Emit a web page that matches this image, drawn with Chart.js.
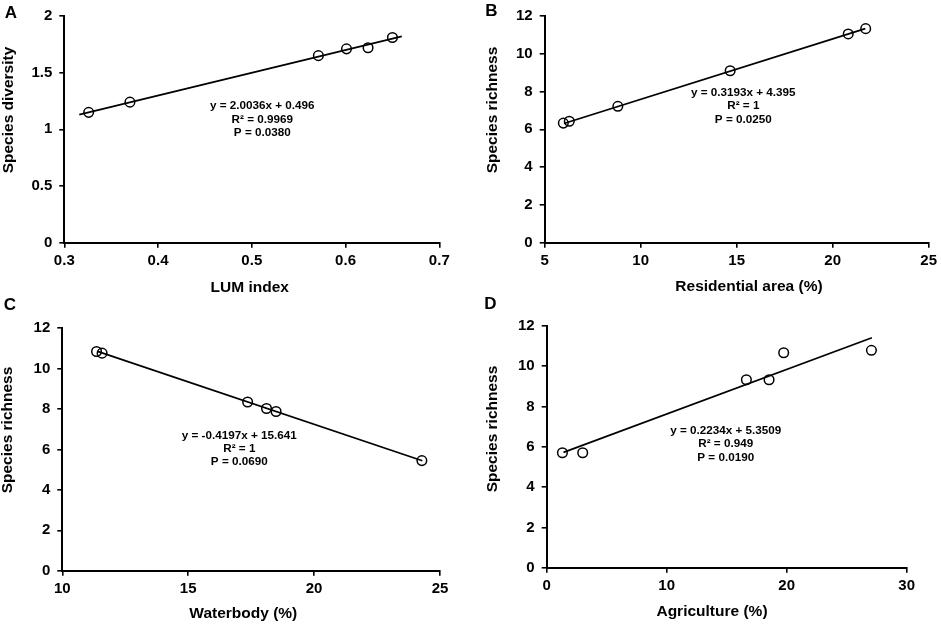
<!DOCTYPE html>
<html>
<head>
<meta charset="utf-8">
<script src="https://cdn.jsdelivr.net/npm/chart.js@4.4.1/dist/chart.umd.min.js"></script>
<style>
    body { margin: 0; background: #ffffff; }
    #wrap { position: relative; width: 941px; height: 624px; }
    canvas { position: absolute; }
</style>
</head>
<body>
<div id="wrap">
    <canvas id="panel-a" width="470" height="300" style="left:0;top:0"></canvas>
    <canvas id="panel-b" width="471" height="300" style="left:470px;top:0"></canvas>
    <canvas id="panel-c" width="470" height="328" style="left:0;top:296px"></canvas>
    <canvas id="panel-d" width="471" height="328" style="left:470px;top:296px"></canvas>
</div>
<script>
// A - LUM index vs species diversity
const lumIndex = [0.326, 0.370, 0.571, 0.601, 0.624, 0.650];
const diversity = [1.15, 1.24, 1.65, 1.71, 1.72, 1.81];
const lumTrendX = [0.316, 0.660];
const lumTrendY = [1.13, 1.82];
const lumTicks = [0.3, 0.4, 0.5, 0.6, 0.7];
const diversityTicks = [0, 0.5, 1, 1.5, 2];

// B - residential area vs species richness
const residential = [5.97, 6.28, 8.81, 14.66, 20.81, 21.72];
const richnessB = [6.33, 6.43, 7.22, 9.10, 11.05, 11.33];
const residentialTrendX = [6.0, 21.7];
const residentialTrendY = [6.31, 11.33];
const residentialTicks = [5, 10, 15, 20, 25];

// C - waterbody vs species richness
const waterbody = [11.36, 11.58, 17.36, 18.11, 18.49, 24.28];
const richnessC = [10.85, 10.77, 8.35, 8.03, 7.88, 5.45];
const waterTrendX = [11.4, 24.3];
const waterTrendY = [10.86, 5.44];
const waterTicks = [10, 15, 20, 25];

// D - agriculture vs species richness
const agriculture = [1.31, 3.0, 16.64, 18.53, 19.75, 27.06];
const richnessD = [5.70, 5.70, 9.32, 9.32, 10.66, 10.78];
const agriTrendX = [1.4, 27.1];
const agriTrendY = [5.72, 11.40];
const agriTicks = [0, 10, 20, 30];

const richnessTicks = [0, 2, 4, 6, 8, 10, 12];

const FONT = 'Liberation Sans, Arial, sans-serif';

// panel letter, axis titles (Excel puts them a little off centre) and regression text
const panelText = {
    id: 'panelText',
    afterDatasetsDraw(chart, args, opts) {
        const ctx = chart.ctx;
        ctx.save();
        ctx.fillStyle = '#000000';
        ctx.textAlign = 'center';
        ctx.textBaseline = 'middle';
        ctx.font = 'bold 17px ' + FONT;
        ctx.fillText(opts.letter, opts.letterX, opts.letterY);

        ctx.font = 'bold 15.5px ' + FONT;
        ctx.fillText(opts.xTitle, opts.xTitleX, opts.xTitleY);
        ctx.save();
        ctx.translate(opts.yTitleX, opts.yTitleY);
        ctx.rotate(-Math.PI / 2);
        ctx.fillText(opts.yTitle, 0, 0);
        ctx.restore();

        ctx.font = 'bold 11.7px ' + FONT;
        opts.notes.forEach((line, i) => {
            ctx.fillText(line, opts.noteX, opts.noteY + i * 13.3);
        });
        ctx.restore();
    }
};

function toPoints(xs, ys) {
    return xs.map((x, i) => ({x: x, y: ys[i]}));
}

function fixedTicks(values) {
    return function (scale) {
        scale.ticks = values.map(v => ({value: v}));
    };
}

function addPanel(canvasId, p, g) {
    const axisFont = {size: 15, weight: 'bold', family: FONT};
    const tickMarks = {
        display: true,
        drawOnChartArea: false,
        drawTicks: true,
        tickLength: 5,
        color: '#000000',
        lineWidth: 1.6
    };

    new Chart(canvasId, {
        type: 'scatter',
        data: {
            datasets: [{
                data: toPoints(p.xs, p.ys),
                showLine: false,
                pointStyle: 'circle',
                pointRadius: 4.8,
                pointBorderWidth: 1.5,
                pointBorderColor: '#000000',
                pointBackgroundColor: 'rgba(0,0,0,0)'
            }, {
                data: toPoints(p.trendX, p.trendY),
                showLine: true,
                borderColor: '#000000',
                borderWidth: 1.7,
                pointRadius: 0
            }]
        },
        options: {
            responsive: false,
            animation: false,
            events: [],
            layout: {
                padding: {top: g.top, right: g.right, left: 0, bottom: 0}
            },
            scales: {
                x: {
                    type: 'linear',
                    min: p.xTicks[0],
                    max: p.xTicks[p.xTicks.length - 1],
                    afterBuildTicks: fixedTicks(p.xTicks),
                    afterFit(scale) { scale.height = g.xHeight; },
                    ticks: {
                        font: axisFont,
                        color: '#000000',
                        padding: 4,
                        maxRotation: 0,
                        callback: v => String(v)
                    },
                    grid: tickMarks,
                    border: {display: true, color: '#000000', width: 2},
                    title: {display: false}
                },
                y: {
                    type: 'linear',
                    min: p.yTicks[0],
                    max: p.yTicks[p.yTicks.length - 1],
                    afterBuildTicks: fixedTicks(p.yTicks),
                    afterFit(scale) { scale.width = g.yWidth; },
                    ticks: {
                        font: axisFont,
                        color: '#000000',
                        padding: 7,
                        callback: v => String(v)
                    },
                    grid: tickMarks,
                    border: {display: true, color: '#000000', width: 2},
                    title: {display: false}
                }
            },
            plugins: {
                legend: {display: false},
                tooltip: {enabled: false},
                panelText: {
                    letter: p.letter,
                    letterX: g.letterX,
                    letterY: g.letterY,
                    xTitle: p.xTitle,
                    xTitleX: g.xTitleX,
                    xTitleY: g.xTitleY,
                    yTitle: p.yTitle,
                    yTitleX: g.yTitleX,
                    yTitleY: g.yTitleY,
                    notes: p.notes,
                    noteX: g.noteX,
                    noteY: g.noteY
                }
            }
        },
        plugins: [panelText]
    });
}

addPanel('panel-a', {
    xs: lumIndex, ys: diversity, trendX: lumTrendX, trendY: lumTrendY,
    xTicks: lumTicks, yTicks: diversityTicks,
    xTitle: 'LUM index', yTitle: 'Species diversity', letter: 'A',
    notes: ['y = 2.0036x + 0.496', 'R² = 0.9969', 'P = 0.0380']
}, {top: 9.3, right: 30.7, xHeight: 57.3, yWidth: 64.3,
    xTitleX: 249.7, xTitleY: 288, yTitleX: 8.6, yTitleY: 110,
    letterX: 11, letterY: 13.3, noteX: 262.3, noteY: 106});

addPanel('panel-b', {
    xs: residential, ys: richnessB, trendX: residentialTrendX, trendY: residentialTrendY,
    xTicks: residentialTicks, yTicks: richnessTicks,
    xTitle: 'Residential area (%)', yTitle: 'Species richness', letter: 'B',
    notes: ['y = 0.3193x + 4.395', 'R² = 1', 'P = 0.0250']
}, {top: 9.3, right: 9.3, xHeight: 57.3, yWidth: 74.7,
    xTitleX: 279, xTitleY: 286.7, yTitleX: 22.5, yTitleY: 110,
    letterX: 21.3, letterY: 11.2, noteX: 273.3, noteY: 92.7});

addPanel('panel-c', {
    xs: waterbody, ys: richnessC, trendX: waterTrendX, trendY: waterTrendY,
    xTicks: waterTicks, yTicks: richnessTicks,
    xTitle: 'Waterbody (%)', yTitle: 'Species richness', letter: 'C',
    notes: ['y = -0.4197x + 15.641', 'R² = 1', 'P = 0.0690']
}, {top: 32.3, right: 30, xHeight: 53.3, yWidth: 62.3,
    xTitleX: 243.3, xTitleY: 317.3, yTitleX: 7.8, yTitleY: 134,
    letterX: 10, letterY: 9, noteX: 239.3, noteY: 139.3});

addPanel('panel-d', {
    xs: agriculture, ys: richnessD, trendX: agriTrendX, trendY: agriTrendY,
    xTicks: agriTicks, yTicks: richnessTicks,
    xTitle: 'Agriculture (%)', yTitle: 'Species richness', letter: 'D',
    notes: ['y = 0.2234x + 5.3509', 'R² = 0.949', 'P = 0.0190']
}, {top: 29.7, right: 34.3, xHeight: 56.3, yWidth: 76.7,
    xTitleX: 242, xTitleY: 315.7, yTitleX: 22.5, yTitleY: 133,
    letterX: 20.5, letterY: 8, noteX: 255.7, noteY: 134.7});
</script>
</body>
</html>
